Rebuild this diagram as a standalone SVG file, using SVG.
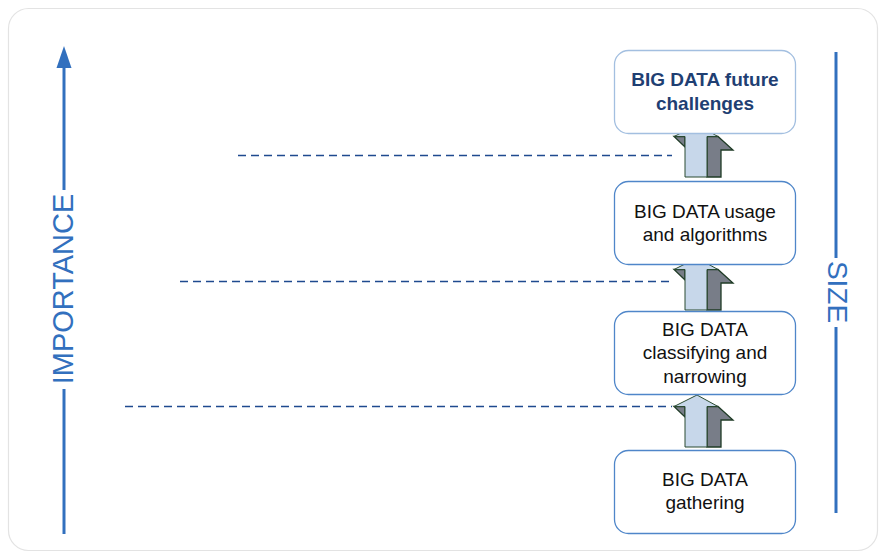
<svg xmlns="http://www.w3.org/2000/svg" xmlns:xlink="http://www.w3.org/1999/xlink" width="879" height="552" viewBox="0 0 879 552">
<style>
.box{fill:#fff;stroke:#4f86c9;stroke-width:1.3}
.box1{fill:#fff;stroke:#a3bfe0;stroke-width:1.3}
.t{font-family:"Liberation Sans",Arial,sans-serif;font-size:19px;fill:#111;text-anchor:middle}
.tb{font-family:"Liberation Sans",Arial,sans-serif;font-size:19px;font-weight:bold;fill:#1f3f73;text-anchor:middle}
.axis{stroke:#3270be;stroke-width:3;fill:none}
.axt{font-family:"Liberation Sans",Arial,sans-serif;fill:#3270be;text-anchor:middle}
.dash{stroke:#1f4a8f;stroke-width:1.3;stroke-dasharray:8,5;fill:none}
.light{fill:#c7d7ea;stroke:#2a4a30;stroke-width:1}
.dark{fill:#787d88;stroke:#1f3b26;stroke-width:1.3}
</style>
<defs>
<g id="arrow">
<polygon class="dark" points="-23,11.5 -12,11.5 -12,22"/>
<polygon class="dark" points="10,11.5 21,11.5 36,25 24,25 24,52 10,52"/>
<polygon class="light" points="0,0 21,11.5 10,11.5 10,52 -12,52 -12,11.5 -23,11.5"/>
</g>
</defs>
<rect x="8.5" y="8.5" width="869" height="542" rx="20" fill="#fff" stroke="#e3e3e3" stroke-width="1.2"/>
<g id="connectors">
<line class="dash" x1="238" y1="155.5" x2="672" y2="155.5"/>
<line class="dash" x1="180" y1="281.5" x2="672" y2="281.5"/>
<line class="dash" x1="125" y1="406.5" x2="672" y2="406.5"/>
<use xlink:href="#arrow" x="697" y="125"/>
<use xlink:href="#arrow" x="697" y="258"/>
<use xlink:href="#arrow" x="697" y="395"/>
</g>
<g id="importance-axis">
<line class="axis" x1="64" y1="66" x2="64" y2="190"/>
<line class="axis" x1="64" y1="389" x2="64" y2="534"/>
<polygon points="64,46 56.5,68 71.5,68" fill="#3270be"/>
<text class="axt" x="73" y="289" font-size="29" transform="rotate(-90 73 289)">IMPORTANCE</text>
</g>
<g id="size-axis">
<line class="axis" x1="836" y1="52" x2="836" y2="258"/>
<line class="axis" x1="836" y1="327" x2="836" y2="513"/>
<text class="axt" x="828" y="292" font-size="28" transform="rotate(90 828 292)">SIZE</text>
</g>
<g id="node-challenges">
<rect class="box1" x="614.5" y="50.5" width="181" height="83" rx="14"/>
<text class="tb" x="705" y="86">BIG DATA future</text>
<text class="tb" x="705" y="110">challenges</text>
</g>
<g id="node-usage">
<rect class="box" x="614.5" y="181.5" width="181" height="83" rx="14"/>
<text class="t" x="705" y="218">BIG DATA usage</text>
<text class="t" x="705" y="241">and algorithms</text>
</g>
<g id="node-classifying">
<rect class="box" x="614.5" y="311.5" width="181" height="83" rx="14"/>
<text class="t" x="705" y="336">BIG DATA</text>
<text class="t" x="705" y="359">classifying and</text>
<text class="t" x="705" y="383">narrowing</text>
</g>
<g id="node-gathering">
<rect class="box" x="614.5" y="450.5" width="181" height="83" rx="14"/>
<text class="t" x="705" y="486">BIG DATA</text>
<text class="t" x="705" y="509">gathering</text>
</g>
</svg>
